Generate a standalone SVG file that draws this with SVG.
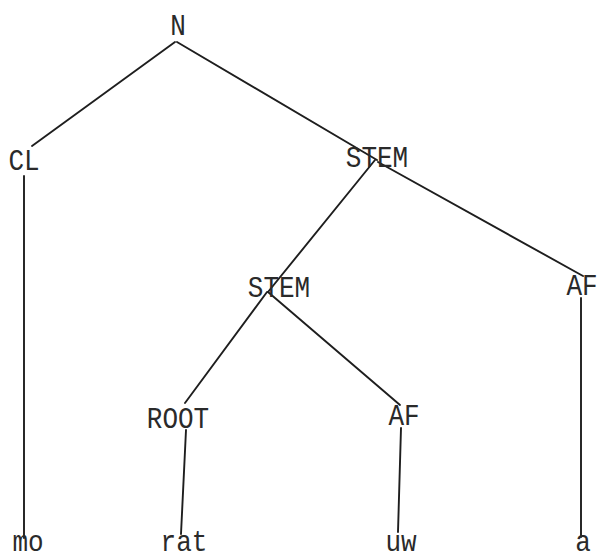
<svg xmlns="http://www.w3.org/2000/svg" width="597" height="560" viewBox="0 0 597 560">
<style>
.t{font-family:"Liberation Mono","DejaVu Sans Mono",monospace;font-size:26px;fill:#2a2a2a;text-anchor:middle}
.c line{stroke:#1e1e1e;stroke-width:1.9;stroke-linecap:round}
</style>
<rect width="597" height="560" fill="#ffffff"/>
<g class="c" id="connectors">
<line x1="175" y1="42" x2="32" y2="146"/>
<line x1="177" y1="42" x2="377" y2="160"/>
<line x1="375" y1="160" x2="268" y2="292"/>
<line x1="378" y1="162" x2="583" y2="276"/>
<line x1="267" y1="292" x2="185" y2="403"/>
<line x1="268" y1="292" x2="400" y2="405"/>
<line x1="24" y1="176" x2="24" y2="538"/>
<line x1="186" y1="430" x2="181" y2="534"/>
<line x1="401" y1="428" x2="398" y2="532"/>
<line x1="581" y1="298" x2="581" y2="537"/>
</g>
<g id="n_N"><text class="t" transform="translate(178,35) scale(1,1.15)">N</text></g>
<g id="n_CL"><text class="t" transform="translate(24,170) scale(1,1.15)">CL</text></g>
<g id="n_STEM1"><text class="t" transform="translate(377,167) scale(1,1.15)">STEM</text></g>
<g id="n_STEM2"><text class="t" transform="translate(279,297) scale(1,1.15)">STEM</text></g>
<g id="n_AF1"><text class="t" transform="translate(582,295) scale(1,1.15)">AF</text></g>
<g id="n_ROOT"><text class="t" transform="translate(178,428) scale(1,1.15)">ROOT</text></g>
<g id="n_AF2"><text class="t" transform="translate(404,425) scale(1,1.15)">AF</text></g>
<g id="n_mo"><text class="t" transform="translate(28,551) scale(1,1.15)">mo</text></g>
<g id="n_rat"><text class="t" transform="translate(184,551) scale(1,1.15)">rat</text></g>
<g id="n_uw"><text class="t" transform="translate(401,551) scale(1,1.15)">uw</text></g>
<g id="n_a"><text class="t" transform="translate(583,551) scale(1,1.15)">a</text></g>
</svg>
